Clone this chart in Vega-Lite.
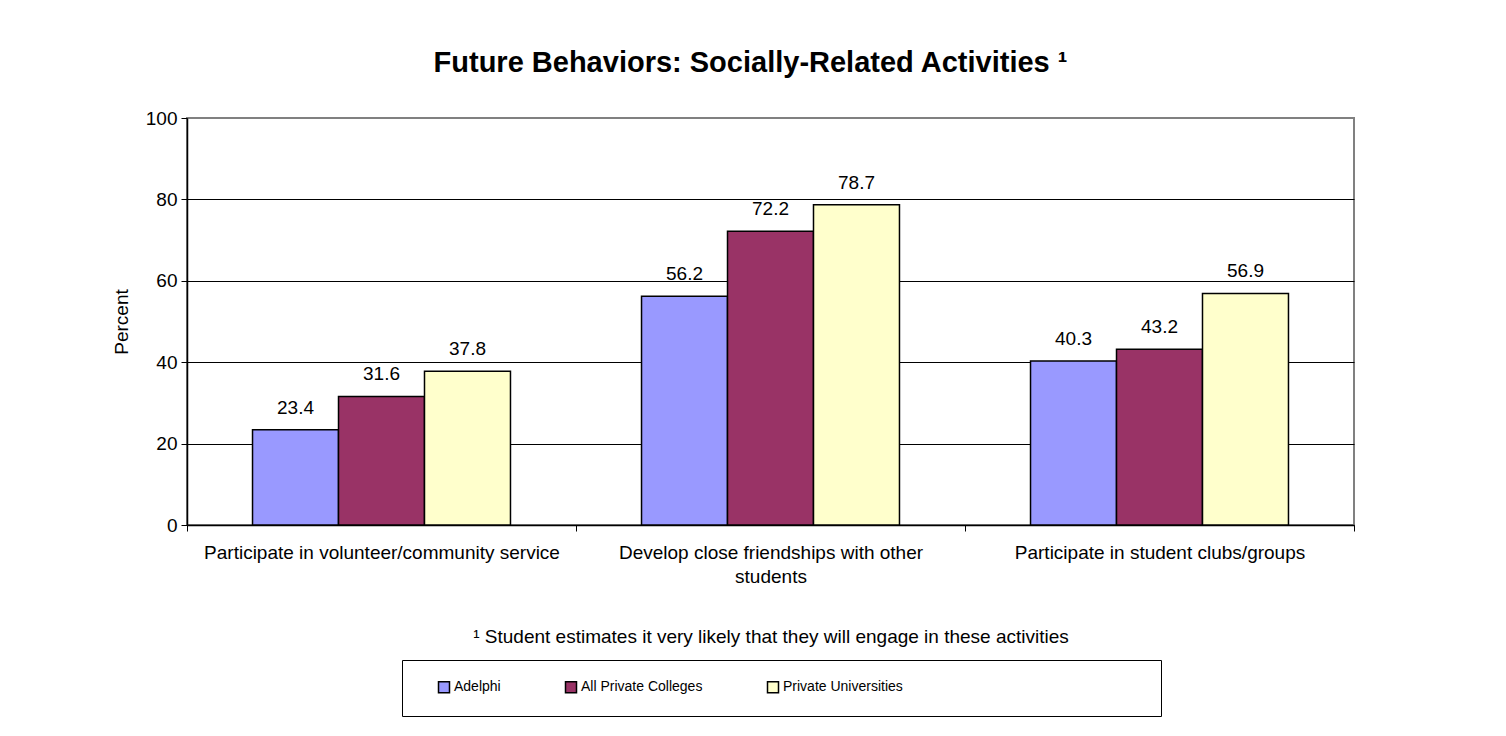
{
  "$schema": "https://vega.github.io/schema/vega-lite/v6.json",
  "width": 1167,
  "height": 407,
  "autosize": {"type": "none"},
  "padding": {"left": 187, "top": 118, "right": 152, "bottom": 211},
  "background": "white",
  "title": {
    "text": "Future Behaviors: Socially-Related Activities ¹",
    "fontSize": 29,
    "font": "Liberation Sans",
    "fontWeight": "bold",
    "anchor": "middle",
    "dx": -20,
    "offset": 31,
    "color": "black"
  },
  "config": {
    "font": "Liberation Sans",
    "view": {"stroke": "#808080", "strokeWidth": 2}
  },
  "data": {
    "values": [
      {"category": "Participate in volunteer/community service", "group": "Adelphi", "value": 23.4},
      {"category": "Participate in volunteer/community service", "group": "All Private Colleges", "value": 31.6},
      {"category": "Participate in volunteer/community service", "group": "Private Universities", "value": 37.8},
      {"category": "Develop close friendships with other students", "group": "Adelphi", "value": 56.2},
      {"category": "Develop close friendships with other students", "group": "All Private Colleges", "value": 72.2},
      {"category": "Develop close friendships with other students", "group": "Private Universities", "value": 78.7},
      {"category": "Participate in student clubs/groups", "group": "Adelphi", "value": 40.3},
      {"category": "Participate in student clubs/groups", "group": "All Private Colleges", "value": 43.2},
      {"category": "Participate in student clubs/groups", "group": "Private Universities", "value": 56.9}
    ]
  },
  "encoding": {
    "x": {
      "field": "category",
      "type": "nominal",
      "sort": ["Participate in volunteer/community service", "Develop close friendships with other students", "Participate in student clubs/groups"],
      "scale": {"paddingInner": 0, "paddingOuter": 0},
      "axis": {
        "title": "¹ Student estimates it very likely that they will engage in these activities",
        "titleFontSize": 19,
        "titleFontWeight": "normal",
        "titleColor": "black",
        "titlePadding": 41,
        "labelAngle": 0,
        "labelFontSize": 19,
        "labelColor": "black",
        "labelLimit": 500,
        "labelPadding": 12,
        "labelLineHeight": 24,
        "labelExpr": "datum.label == 'Develop close friendships with other students' ? ['Develop close friendships with other', 'students'] : datum.label",
        "tickBand": "extent",
        "tickSize": 6,
        "tickColor": "black",
        "domainColor": "black",
        "domainWidth": 1.5
      }
    },
    "y": {
      "field": "value",
      "type": "quantitative",
      "scale": {"domain": [0, 100], "nice": false},
      "axis": {
        "values": [0, 20, 40, 60, 80, 100],
        "title": "Percent",
        "titleFontSize": 19,
        "titleFontWeight": "normal",
        "titleColor": "black",
        "titlePadding": 14,
        "labelFontSize": 19,
        "labelColor": "black",
        "labelPadding": 4,
        "tickSize": 6,
        "tickColor": "black",
        "domainColor": "black",
        "domainWidth": 1.5,
        "grid": true,
        "gridColor": {"condition": {"test": "datum.value == 100", "value": "#808080"}, "value": "black"},
        "gridWidth": 1
      }
    },
    "xOffset": {
      "field": "group",
      "sort": ["Adelphi", "All Private Colleges", "Private Universities"],
      "scale": {"paddingInner": 0, "paddingOuter": 0.762}
    }
  },
  "layer": [
    {
      "mark": {"type": "bar", "stroke": "black", "strokeWidth": 1.5},
      "encoding": {
        "color": {
          "field": "group",
          "type": "nominal",
          "scale": {
            "domain": ["Adelphi", "All Private Colleges", "Private Universities"],
            "range": ["#9999FF", "#993366", "#FFFFCC"]
          },
          "legend": {
            "orient": "none",
            "legendX": 215,
            "legendY": 542,
            "direction": "horizontal",
            "title": null,
            "strokeColor": "black",
            "fillColor": "white",
            "padding": 20,
            "symbolOffset": 15,
            "symbolType": "square",
            "symbolSize": 121,
            "symbolStrokeColor": "black",
            "symbolStrokeWidth": 1.5,
            "labelFontSize": 14,
            "labelFont": "Liberation Sans",
            "labelColor": "black",
            "columnPadding": 48,
            "labelOffset": 3,
            "labelLimit": 800,
            "labelExpr": "datum.label == 'Private Universities' ? pad(datum.label, 81) + '\u200b' : datum.label"
          }
        }
      }
    },
    {
      "mark": {"type": "text", "baseline": "alphabetic", "dy": -16, "fontSize": 19, "color": "black"},
      "encoding": {
        "text": {"field": "value", "type": "quantitative", "format": ".1f"}
      }
    }
  ]
}
